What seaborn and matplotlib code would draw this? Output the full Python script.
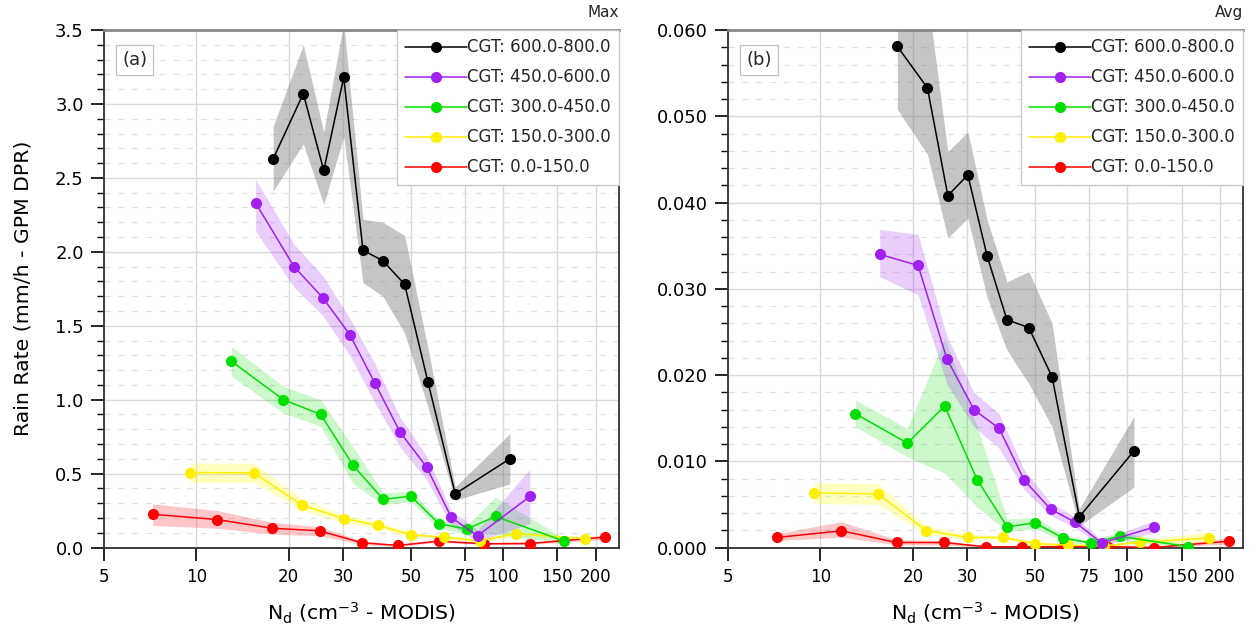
import numpy as np
import matplotlib
matplotlib.use("Agg")
import matplotlib.pyplot as plt
import matplotlib.ticker as mticker
import seaborn as sns

# CGT classes (legend order) and colours
classes = ["CGT: 600.0-800.0", "CGT: 450.0-600.0", "CGT: 300.0-450.0",
           "CGT: 150.0-300.0", "CGT: 0.0-150.0"]
colors = ["#000000", "#a020f0", "#00e000", "#ffee00", "#ff0000"]
band_colors = ["#808080", "#a020f0", "#00e000", "#ffff00", "#ff0000"]
band_alpha = [0.45, 0.22, 0.2, 0.25, 0.22]

# Nd bin centres (cm-3) for each class
black_x = [17.8, 22.3, 26.0, 30.2, 34.9, 40.5, 47.7, 56.8, 69.7, 105]
purple_x = [15.6, 20.8, 25.8, 31.6, 38.2, 46.1, 56.2, 67.7, 82.4, 122]
green_x = [13.0, 19.2, 25.4, 32.4, 40.6, 50.0, 61.6, 75.9, 94.3, 158]
yellow_x = [9.55, 15.4, 22.1, 30.2, 39.2, 50.1, 64.0, 84.0, 110, 185]
red_x = [7.2, 11.7, 17.7, 25.2, 34.6, 45.4, 61.6, 86.3, 122, 214]

# panel (a): Max rain rate
a_black_y = [2.63, 3.07, 2.55, 3.18, 2.01, 1.94, 1.78, 1.12, 0.363, 0.60]
a_black_lo = [2.41, 2.73, 2.32, 2.78, 1.79, 1.70, 1.45, 0.95, 0.32, 0.43]
a_black_hi = [2.85, 3.40, 2.81, 3.55, 2.22, 2.20, 2.11, 1.35, 0.41, 0.77]
a_purple_y = [2.33, 1.90, 1.69, 1.44, 1.11, 0.78, 0.545, 0.203, 0.079, 0.345]
a_purple_lo = [2.14, 1.76, 1.57, 1.30, 0.98, 0.68, 0.46, 0.15, 0.04, 0.16]
a_purple_hi = [2.49, 2.05, 1.84, 1.55, 1.24, 0.88, 0.62, 0.25, 0.12, 0.53]
a_green_y = [1.26, 1.00, 0.90, 0.556, 0.326, 0.347, 0.162, 0.124, 0.21, 0.043]
a_green_lo = [1.16, 0.91, 0.82, 0.43, 0.29, 0.31, 0.13, 0.09, 0.09, 0.03]
a_green_hi = [1.36, 1.09, 1.00, 0.68, 0.37, 0.38, 0.19, 0.15, 0.34, 0.06]
a_yellow_y = [0.507, 0.505, 0.286, 0.196, 0.149, 0.086, 0.07, 0.045, 0.094, 0.06]
a_yellow_lo = [0.44, 0.44, 0.25, 0.17, 0.13, 0.07, 0.06, 0.03, 0.08, 0.05]
a_yellow_hi = [0.57, 0.57, 0.33, 0.22, 0.17, 0.10, 0.08, 0.06, 0.11, 0.07]
a_red_y = [0.225, 0.189, 0.13, 0.113, 0.032, 0.014, 0.043, 0.025, 0.027, 0.07]
a_red_lo = [0.15, 0.13, 0.09, 0.08, 0.02, 0.008, 0.035, 0.02, 0.02, 0.055]
a_red_hi = [0.295, 0.25, 0.17, 0.14, 0.045, 0.02, 0.05, 0.035, 0.035, 0.085]

# panel (b): Avg rain rate
b_black_y = [0.0581, 0.0533, 0.0408, 0.0432, 0.0338, 0.0264, 0.0255, 0.0198, 0.00356, 0.0112]
b_black_lo = [0.0508, 0.0456, 0.0359, 0.0382, 0.029, 0.0229, 0.019, 0.014, 0.0025, 0.007]
b_black_hi = [0.066, 0.064, 0.0459, 0.0482, 0.038, 0.0308, 0.032, 0.026, 0.0045, 0.0152]
b_purple_y = [0.0340, 0.0327, 0.0219, 0.0160, 0.0138, 0.0078, 0.00445, 0.0029, 0.00053, 0.00236]
b_purple_lo = [0.0314, 0.0293, 0.019, 0.014, 0.0115, 0.0067, 0.0037, 0.0023, 0.0002, 0.0017]
b_purple_hi = [0.0369, 0.0363, 0.0245, 0.018, 0.0155, 0.009, 0.0052, 0.0035, 0.0009, 0.0031]
b_green_y = [0.0155, 0.0121, 0.0164, 0.00785, 0.0024, 0.00286, 0.0011, 0.00053, 0.0013, 0.0001]
b_green_lo = [0.014, 0.0105, 0.0086, 0.0047, 0.0018, 0.0022, 0.0007, 0.0003, 0.0008, 0.0]
b_green_hi = [0.0171, 0.0138, 0.0243, 0.014, 0.0033, 0.0035, 0.0015, 0.0008, 0.0018, 0.0003]
b_yellow_y = [0.00634, 0.0062, 0.00197, 0.00116, 0.00116, 0.00046, 0.00027, 0.0002, 0.00061, 0.00111]
b_yellow_lo = [0.0051, 0.005, 0.0015, 0.0009, 0.0009, 0.0003, 0.0001, 0.0001, 0.0004, 0.0006]
b_yellow_hi = [0.0075, 0.0074, 0.0025, 0.0015, 0.0014, 0.0007, 0.0004, 0.0003, 0.0009, 0.0018]
b_red_y = [0.00116, 0.00193, 0.00058, 0.00058, 0.00008, 0.00008, 0.0001, 0.0001, 0.0, 0.00073]
b_red_lo = [0.0008, 0.0012, 0.0003, 0.0003, 0.0, 0.0, 0.0, 0.0, 0.0, 0.0004]
b_red_hi = [0.0016, 0.003, 0.0009, 0.0008, 0.0002, 0.0002, 0.0002, 0.0002, 0.0001, 0.0011]

x_ticks = [5, 10, 20, 30, 50, 75, 100, 150, 200]
x_labels = ["5", "10", "20", "30", "50", "75", "100", "150", "200"]

sns.set_theme(style="ticks")
plt.rcParams["font.family"] = ["DejaVu Sans"]

fig = plt.figure(figsize=(12.57, 6.32), dpi=100)
ax_a = fig.add_axes([0.0827, 0.1337, 0.4097, 0.8188])
ax_b = fig.add_axes([0.5792, 0.1337, 0.4097, 0.8188])

xs = [black_x, purple_x, green_x, yellow_x, red_x]
panels = [
    (ax_a, [a_black_y, a_purple_y, a_green_y, a_yellow_y, a_red_y],
     [a_black_lo, a_purple_lo, a_green_lo, a_yellow_lo, a_red_lo],
     [a_black_hi, a_purple_hi, a_green_hi, a_yellow_hi, a_red_hi],
     3.5, 0.5, 0.1, "%.1f", "(a)", "Max"),
    (ax_b, [b_black_y, b_purple_y, b_green_y, b_yellow_y, b_red_y],
     [b_black_lo, b_purple_lo, b_green_lo, b_yellow_lo, b_red_lo],
     [b_black_hi, b_purple_hi, b_green_hi, b_yellow_hi, b_red_hi],
     0.060, 0.010, 0.002, "%.3f", "(b)", "Avg"),
]

for ax, ys, los, his, ymax, ymaj, ymin, fmt, tag, title in panels:
    handles = [None] * 5
    # draw red first so black ends up on top
    for i in reversed(range(5)):
        ax.fill_between(xs[i], los[i], his[i], color=band_colors[i],
                        alpha=band_alpha[i], linewidth=0, zorder=2)
        sns.lineplot(x=xs[i], y=ys[i], ax=ax, color=colors[i], marker="o",
                     markersize=8, markeredgewidth=0, linewidth=1.1,
                     sort=False, zorder=3)
        handles[i] = ax.lines[-1]

    ax.set_xscale("log")
    ax.set_xlim(5, 238)
    ax.set_ylim(0, ymax)
    ax.set_xticks(x_ticks)
    ax.set_xticklabels(x_labels)
    ax.xaxis.set_minor_locator(mticker.NullLocator())
    ax.yaxis.set_major_locator(mticker.MultipleLocator(ymaj))
    ax.yaxis.set_minor_locator(mticker.MultipleLocator(ymin))
    ax.yaxis.set_major_formatter(mticker.FormatStrFormatter(fmt))

    ax.set_axisbelow(True)
    ax.grid(True, which="major", axis="both", color="#d8d8d8", linewidth=1.0)
    ax.grid(True, which="minor", axis="y", color="#e2e2e2", linewidth=0.9,
            linestyle=(0, (5, 6)))

    ax.tick_params(axis="both", which="major", direction="out", length=9.5,
                   width=1.2, pad=5, colors="black")
    ax.tick_params(axis="y", which="major", labelsize=13)
    ax.tick_params(axis="x", which="major", labelsize=12)
    ax.tick_params(axis="y", which="minor", direction="out", length=5,
                   width=1.0, colors="black")
    for s in ax.spines.values():
        s.set_color("#333333")
        s.set_linewidth(1.3)
    ax.spines["top"].set_color("#888888")
    ax.spines["top"].set_linewidth(2.0)

    ax.set_xlabel(r"N$_\mathregular{d}$ (cm$^\mathregular{-3}$ - MODIS)",
                  fontsize=14.7, labelpad=11, color="black")
    ax.set_ylabel("")

    leg = ax.legend(handles, classes, loc="upper right", borderaxespad=0,
                    frameon=True, fancybox=False, fontsize=12,
                    handlelength=3.7, handletextpad=0.0,
                    labelspacing=0.72, borderpad=0.5)
    leg.get_frame().set_edgecolor("#c8c8c8")
    leg.get_frame().set_linewidth(1.0)
    leg.get_frame().set_alpha(1.0)
    leg.set_zorder(5)

    ax.text(0.06, 0.942, tag, transform=ax.transAxes, fontsize=13,
            ha="center", va="center", zorder=6,
            bbox=dict(boxstyle="square,pad=0.33", fc="white", ec="#c0c0c0", lw=0.9))
    ax.text(1.0, 1.02, title, transform=ax.transAxes, fontsize=11,
            ha="right", va="bottom")

ax_a.set_ylabel("Rain Rate (mm/h - GPM DPR)", fontsize=14.7, labelpad=16,
                color="black")

fig.savefig("out.png", dpi=100)
